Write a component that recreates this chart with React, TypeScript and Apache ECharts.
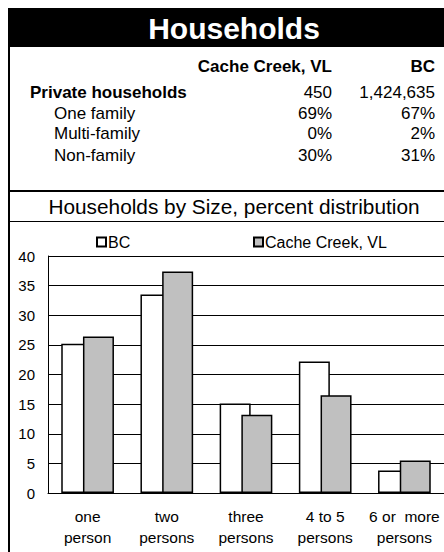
import React, { useEffect, useRef } from "react";
import * as echarts from "echarts";

const FONT = "'Liberation Sans', Arial, sans-serif";

const titleText = "Households";
const subtitleText = "Households by Size, percent distribution";
const tableHeaders = ["Cache Creek, VL", "BC"];
const tableRowLabels = ["Private households", "One family", "Multi-family", "Non-family"];
const ccTableValues = ["450", "69%", "0%", "30%"];
const bcTableValues = ["1,424,635", "67%", "2%", "31%"];

const categories = ["one\nperson", "two\npersons", "three\npersons", "4 to 5\npersons", "6 or  more\npersons"];
const seriesNames = ["BC", "Cache Creek, VL"];
const bcValues = [25.2, 33.5, 15.1, 22.2, 3.8];
const ccValues = [26.4, 37.4, 13.2, 16.5, 5.5];
const yMin = 0;
const yMax = 40;
const yInterval = 5;

export default function App() {
  const ref = useRef<HTMLDivElement>(null);
  useEffect(() => {
    if (!ref.current) return;
    const chart = echarts.init(ref.current, null, { renderer: "svg" });

    const rowY = [92, 113, 133, 155];
    const rowX = [30, 54, 54, 54];
    const tableTexts: any[] = [];
    tableTexts.push({
      type: "text",
      x: 332,
      y: 66,
      style: { text: tableHeaders[0], fontFamily: FONT, fontSize: 17, fontWeight: "bold", fill: "#000", align: "right", verticalAlign: "middle" },
    });
    tableTexts.push({
      type: "text",
      x: 435,
      y: 66,
      style: { text: tableHeaders[1], fontFamily: FONT, fontSize: 17, fontWeight: "bold", fill: "#000", align: "right", verticalAlign: "middle" },
    });
    tableRowLabels.forEach((lab, i) => {
      tableTexts.push({
        type: "text",
        x: rowX[i],
        y: rowY[i],
        style: { text: lab, fontFamily: FONT, fontSize: 17, fontWeight: i === 0 ? "bold" : "normal", fill: "#000", align: "left", verticalAlign: "middle" },
      });
      tableTexts.push({
        type: "text",
        x: 332,
        y: rowY[i],
        style: { text: ccTableValues[i], fontFamily: FONT, fontSize: 17, fill: "#000", align: "right", verticalAlign: "middle" },
      });
      tableTexts.push({
        type: "text",
        x: 435,
        y: rowY[i],
        style: { text: bcTableValues[i], fontFamily: FONT, fontSize: 17, fill: "#000", align: "right", verticalAlign: "middle" },
      });
    });

    const option: any = {
      animation: false,
      backgroundColor: "#fff",
      textStyle: { fontFamily: FONT },
      graphic: [
        { type: "rect", shape: { x: 8, y: 8, width: 460, height: 39 }, style: { fill: "#000" } },
        {
          type: "text",
          x: 234,
          y: 28,
          style: { text: titleText, fontFamily: FONT, fontSize: 30, fontWeight: "bold", fill: "#fff", align: "center", verticalAlign: "middle" },
        },
        { type: "rect", shape: { x: 8, y: 47, width: 2, height: 510 }, style: { fill: "#000" } },
        { type: "rect", shape: { x: 8, y: 190, width: 460, height: 2 }, style: { fill: "#000" } },
        { type: "rect", shape: { x: 8, y: 221, width: 460, height: 1 }, style: { fill: "#000" } },
        {
          type: "text",
          x: 234,
          y: 206,
          style: { text: subtitleText, fontFamily: FONT, fontSize: 20.8, fill: "#000", align: "center", verticalAlign: "middle" },
        },
        ...tableTexts,
      ],
      legend: [
        {
          data: [seriesNames[0]],
          left: 96,
          top: 234,
          padding: 0,
          icon: "rect",
          itemWidth: 9,
          itemHeight: 9,
          textStyle: { fontFamily: FONT, fontSize: 16, color: "#000", padding: [0, 0, 0, -3] },
        },
        {
          data: [seriesNames[1]],
          left: 253,
          top: 234,
          padding: 0,
          icon: "rect",
          itemWidth: 9,
          itemHeight: 9,
          textStyle: { fontFamily: FONT, fontSize: 16, color: "#000", padding: [0, 0, 0, -3] },
        },
      ],
      grid: { left: 48, top: 256, width: 400, height: 237, containLabel: false },
      xAxis: {
        type: "category",
        data: categories,
        axisLine: { show: true, lineStyle: { color: "#000", width: 1 } },
        axisTick: { show: false },
        axisLabel: { color: "#000", fontFamily: FONT, fontSize: 15.5, lineHeight: 21, margin: 13, interval: 0 },
      },
      yAxis: {
        type: "value",
        min: yMin,
        max: yMax,
        interval: yInterval,
        axisLine: { show: true, lineStyle: { color: "#000", width: 1 } },
        axisTick: { show: false },
        axisLabel: { color: "#000", fontFamily: FONT, fontSize: 15, margin: 13 },
        splitLine: { show: true, lineStyle: { color: "#000", width: 1 } },
      },
      series: [
        {
          name: seriesNames[0],
          type: "bar",
          data: bcValues,
          barWidth: 31,
          barGap: "-30%",
          itemStyle: { color: "#fff", borderColor: "#000", borderWidth: 1.5 },
        },
        {
          name: seriesNames[1],
          type: "bar",
          data: ccValues,
          barWidth: 31,
          barGap: "-30%",
          itemStyle: { color: "#c0c0c0", borderColor: "#000", borderWidth: 1.5 },
        },
      ],
    };
    chart.setOption(option);
    return () => chart.dispose();
  }, []);
  return (
    <div
      ref={ref}
      style={{ position: "fixed", left: 0, top: 0, width: 444, height: 552, background: "#fff" }}
    />
  );
}
